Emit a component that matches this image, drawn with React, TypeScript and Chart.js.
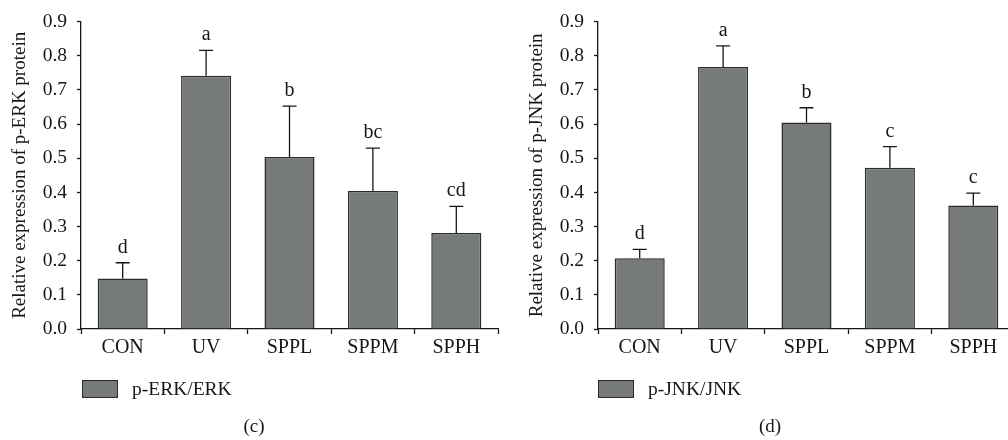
import React, { useEffect, useRef } from 'react';
import { Chart, registerables } from 'chart.js';

Chart.register(...registerables);

const categories = ['CON', 'UV', 'SPPL', 'SPPM', 'SPPH'];

const erkMeans = [0.148, 0.742, 0.504, 0.404, 0.281];
const erkErrors = [0.046, 0.074, 0.149, 0.126, 0.078];
const erkLetters = ['d', 'a', 'b', 'bc', 'cd'];

const jnkMeans = [0.207, 0.767, 0.605, 0.472, 0.362];
const jnkErrors = [0.026, 0.062, 0.043, 0.062, 0.036];
const jnkLetters = ['d', 'a', 'b', 'c', 'c'];

const yTicksMin = 0;
const yTicksMax = 0.9;
const yTickStep = 0.1;

const FONT = "'Liberation Serif', 'Times New Roman', serif";
const BAR_FILL = '#767a79';
const BAR_EDGE = '#2b2b2b';
const INK = '#161616';
const CANVAS_W = 505;
const CANVAS_H = 440;

const errorLetterPlugin = {
  id: 'errorLetters',
  afterDatasetsDraw(chart: any) {
    const ds: any = chart.data.datasets[0];
    const meta = chart.getDatasetMeta(0);
    const yScale = chart.scales.y;
    const ctx = chart.ctx;
    ctx.save();
    meta.data.forEach((bar: any, i: number) => {
      const v = ds.data[i] as number;
      const e = ds.errors[i] as number;
      const x = bar.x;
      const y0 = yScale.getPixelForValue(v);
      const y1 = yScale.getPixelForValue(v + e);
      ctx.strokeStyle = INK;
      ctx.lineWidth = 1.3;
      ctx.beginPath();
      ctx.moveTo(x, y0);
      ctx.lineTo(x, y1);
      ctx.moveTo(x - 7, y1);
      ctx.lineTo(x + 7, y1);
      ctx.stroke();
      ctx.fillStyle = INK;
      ctx.font = `20px ${FONT}`;
      ctx.textAlign = 'center';
      ctx.textBaseline = 'alphabetic';
      ctx.fillText(ds.letters[i], x, y1 - 10);
    });
    ctx.restore();
  },
};

type PanelProps = {
  left: number;
  yTitle: string;
  label: string;
  means: number[];
  errors: number[];
  letters: string[];
};

function Panel({ left, yTitle, label, means, errors, letters }: PanelProps) {
  const ref = useRef<HTMLCanvasElement | null>(null);
  useEffect(() => {
    if (!ref.current) return;
    const chart = new Chart(ref.current, {
      type: 'bar',
      data: {
        labels: categories,
        datasets: [
          {
            label,
            data: means,
            errors,
            letters,
            backgroundColor: BAR_FILL,
            borderColor: BAR_EDGE,
            borderWidth: 1.5,
            barPercentage: 0.6,
            categoryPercentage: 1,
          } as any,
        ],
      },
      options: {
        responsive: false,
        animation: false,
        devicePixelRatio: 1,
        layout: { padding: { top: 18, right: CANVAS_W - 81 - 417, left: 0, bottom: 0 } },
        plugins: { legend: { display: false }, tooltip: { enabled: false } },
        scales: {
          x: {
            grid: {
              display: true,
              drawOnChartArea: false,
              drawTicks: true,
              tickLength: 5,
              tickColor: INK,
              tickWidth: 1.3,
              offset: true,
            },
            border: { display: true, color: INK, width: 1.3 },
            ticks: { color: INK, font: { family: FONT, size: 20 }, padding: 2 },
            afterFit: (s: any) => {
              s.height = CANVAS_H - 329;
            },
          },
          y: {
            min: yTicksMin,
            max: yTicksMax,
            ticks: {
              stepSize: yTickStep,
              callback: (v: any) => Number(v).toFixed(1),
              color: INK,
              font: { family: FONT, size: 19.5 },
              padding: 10,
            },
            grid: {
              display: true,
              drawOnChartArea: false,
              drawTicks: true,
              tickLength: 4,
              tickColor: INK,
              tickWidth: 1.3,
            },
            border: { display: true, color: INK, width: 1.3 },
            title: {
              display: true,
              text: yTitle,
              color: INK,
              font: { family: FONT, size: 19 },
              padding: { top: 9, bottom: 0 },
            },
            afterFit: (s: any) => {
              s.width = 81;
            },
          },
        },
      },
      plugins: [errorLetterPlugin],
    });
    return () => chart.destroy();
  }, []);
  return (
    <canvas
      ref={ref}
      width={CANVAS_W}
      height={CANVAS_H}
      style={{ position: 'absolute', left, top: 0, width: CANVAS_W, height: CANVAS_H }}
    />
  );
}

function LegendItem({ left, text }: { left: number; text: string }) {
  return (
    <>
      <div
        style={{
          position: 'absolute',
          left,
          top: 380,
          width: 36,
          height: 18,
          boxSizing: 'border-box',
          background: BAR_FILL,
          border: `1.5px solid ${BAR_EDGE}`,
        }}
      />
      <div
        style={{
          position: 'absolute',
          left: left + 50,
          top: 379,
          font: `19.5px ${FONT}`,
          lineHeight: '19px',
          color: INK,
          whiteSpace: 'nowrap',
        }}
      >
        {text}
      </div>
    </>
  );
}

function Caption({ center, text }: { center: number; text: string }) {
  return (
    <div
      style={{
        position: 'absolute',
        left: center - 30,
        width: 60,
        top: 416,
        textAlign: 'center',
        font: `19px ${FONT}`,
        lineHeight: '19px',
        color: INK,
      }}
    >
      {text}
    </div>
  );
}

export default function App() {
  return (
    <div
      style={{
        position: 'fixed',
        left: 0,
        top: 0,
        width: 1008,
        height: 440,
        overflow: 'hidden',
        background: '#fff',
      }}
    >
      <Panel
        left={0}
        yTitle="Relative expression of p-ERK protein"
        label="p-ERK/ERK"
        means={erkMeans}
        errors={erkErrors}
        letters={erkLetters}
      />
      <Panel
        left={517}
        yTitle="Relative expression of p-JNK protein"
        label="p-JNK/JNK"
        means={jnkMeans}
        errors={jnkErrors}
        letters={jnkLetters}
      />
      <LegendItem left={82} text="p-ERK/ERK" />
      <LegendItem left={598} text="p-JNK/JNK" />
      <Caption center={254} text="(c)" />
      <Caption center={770} text="(d)" />
    </div>
  );
}
